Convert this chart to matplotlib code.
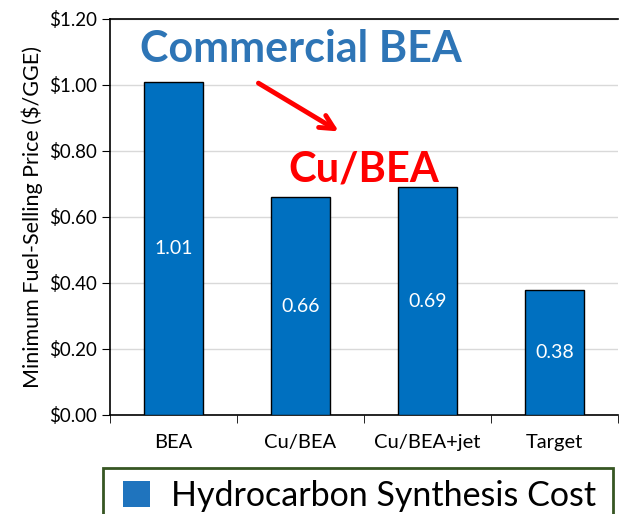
import matplotlib.pyplot as plt
from matplotlib.patches import Patch, Rectangle

# Datos del gráfico
categories = ['BEA', 'Cu/BEA', 'Cu/BEA+jet', 'Target']
prices = [1.01, 0.66, 0.69, 0.38]
y_ticks = [0.0, 0.2, 0.4, 0.6, 0.8, 1.0, 1.2]

plt.rcParams['font.family'] = ['Lato', 'DejaVu Sans']

fig = plt.figure(figsize=(6.19, 5.14), dpi=100)
ax = fig.add_axes([110 / 619, 1 - 415 / 514, 508 / 619, 396 / 514])

x = list(range(len(categories)))
bars = ax.bar(x, prices, width=0.46, color='#0070C0', edgecolor='black', linewidth=1, zorder=3)

# etiquetas de valor dentro de las barras
for xi, v in zip(x, prices):
    ax.text(xi, v / 2, f'{v:.2f}', color='white', ha='center', va='center', fontsize=14, zorder=4)

ax.set_xlim(-0.5, len(categories) - 0.5)
ax.set_ylim(0, 1.2)
ax.set_yticks(y_ticks)
ax.set_yticklabels([f'${t:.2f}' for t in y_ticks], fontsize=13.5)
ax.set_xticks(x)
ax.set_xticklabels(categories, fontsize=14.5)
ax.tick_params(axis='x', length=0, pad=14)
ax.set_xticks([i - 0.5 for i in range(len(categories) + 1)], minor=True)
ax.tick_params(axis='x', which='minor', length=6, direction='out')
ax.tick_params(axis='y', length=6, direction='out')
ax.grid(axis='y', color='#D9D9D9', linewidth=1, zorder=0)
ax.spines['right'].set_visible(False)
for s in ['left', 'bottom', 'top']:
    ax.spines[s].set_linewidth(1.2)
ax.set_ylabel('Minimum Fuel-Selling Price ($/GGE)', fontsize=15.5, labelpad=4)

# anotaciones
ax.text(1.0, 1.109, 'Commercial BEA', color='#2E75B6', fontsize=31, fontweight='bold',
        ha='center', va='center', zorder=5)
ax.text(1.5, 0.745, 'Cu/BEA', color='#FF0000', fontsize=30, fontweight='bold',
        ha='center', va='center', zorder=5)
ax.annotate('', xy=(1.32, 0.855), xytext=(0.65, 1.01),
            arrowprops=dict(arrowstyle='->', color='#FF0000', lw=3.5, mutation_scale=25))

# leyenda (el recuadro sale por el borde inferior, como en el original)
handles = [Patch(facecolor='#1F74BE', edgecolor='none', label='Hydrocarbon Synthesis Cost')]
leg = fig.legend(handles=handles, loc='upper left',
                 bbox_to_anchor=(113 / 619, 1 - 470 / 514),
                 fontsize=24.5, frameon=False, borderaxespad=0,
                 handlelength=0.8, handleheight=0.8, borderpad=0.3, handletextpad=0.6)
fig.patches.append(Rectangle((103 / 619, -0.05), 510 / 619, 0.05 + (514 - 468) / 514,
                             transform=fig.transFigure, fill=False,
                             edgecolor='#375623', linewidth=2))

fig.savefig('out.png', dpi=100)
